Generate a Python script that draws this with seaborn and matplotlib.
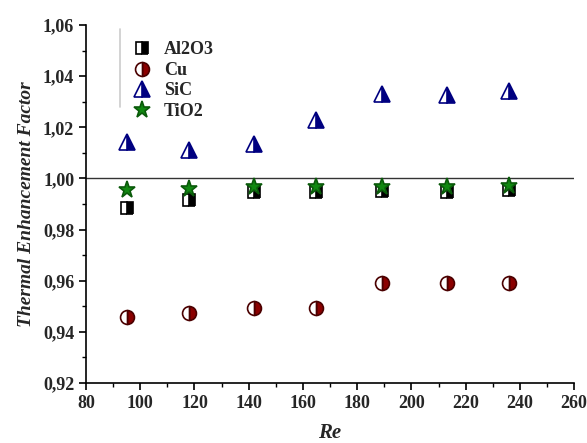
import numpy as np
import pandas as pd
import seaborn as sb
import matplotlib
matplotlib.use('Agg')
import matplotlib.pyplot as plt
from matplotlib.ticker import MultipleLocator, FuncFormatter

# values
re_values = [95, 118, 142, 165, 189, 213, 236]
al2o3 = [0.9885, 0.9915, 0.9945, 0.9948, 0.9950, 0.9948, 0.9955]
cu = [0.9460, 0.9475, 0.9495, 0.9495, 0.9590, 0.9590, 0.9590]
sic = [1.0144, 1.0110, 1.0135, 1.0229, 1.0330, 1.0326, 1.0340]
tio2 = [0.9955, 0.9960, 0.9965, 0.9965, 0.9965, 0.9965, 0.9970]
names = ['Al2O3', 'Cu', 'SiC', 'TiO2']

df = pd.DataFrame({'Re': re_values, 'Al2O3': al2o3, 'Cu': cu, 'SiC': sic, 'TiO2': tio2})

sb.set_style('ticks')
plt.rcParams['font.family'] = ['Liberation Serif', 'DejaVu Serif']
plt.rcParams['font.weight'] = 'bold'

fig = plt.figure(figsize=(5.87, 4.43), dpi=100)
ax = fig.add_axes([0.1465, 0.1354, 0.8315, 0.8082])

# horizontal reference line at factor = 1
ax.axhline(1.0, color='#333333', lw=1.0, zorder=1)

# half filled markers: right half coloured, left half white
styles = {
    'Al2O3': dict(marker='s', markersize=8.5, markeredgecolor='black', markerfacecolor='black'),
    'Cu': dict(marker='o', markersize=10, markeredgecolor='#4a0000', markerfacecolor='#8b0000'),
    'SiC': dict(marker='^', markersize=12, markeredgecolor='#000080', markerfacecolor='#000080'),
    'TiO2': dict(marker='*', markersize=12.5, markeredgecolor='#0a5a0a', markerfacecolor='#118811'),
}

for name in names:
    st = styles[name]
    fill = 'full' if name == 'TiO2' else 'right'
    sb.lineplot(data=df, x='Re', y=name, ax=ax, linestyle='none', label=name,
                fillstyle=fill, markerfacecoloralt='white', markeredgewidth=1.2, zorder=3, **st)

ax.set_xlim(80, 260)
ax.set_ylim(0.92, 1.06)
ax.xaxis.set_major_locator(MultipleLocator(20))
ax.xaxis.set_minor_locator(MultipleLocator(10))
ax.yaxis.set_major_locator(MultipleLocator(0.02))
ax.yaxis.set_minor_locator(MultipleLocator(0.01))
ax.yaxis.set_major_formatter(FuncFormatter(lambda v, p: f'{v:.2f}'.replace('.', ',')))
ax.tick_params(axis='both', which='major', labelsize=13, length=5, width=1.2, color='black')
ax.tick_params(axis='both', which='minor', length=3, width=1.0, color='black')
for lab in ax.get_xticklabels() + ax.get_yticklabels():
    lab.set_fontweight('bold')

for side in ['top', 'right']:
    ax.spines[side].set_visible(False)
for side in ['left', 'bottom']:
    ax.spines[side].set_linewidth(1.2)
    ax.spines[side].set_color('black')

ax.set_xlabel('Re', fontsize=15, fontweight='bold', fontstyle='italic', labelpad=8)
ax.set_ylabel('Thermal Enhancement Factor', fontsize=14, fontweight='bold', fontstyle='italic', labelpad=6)

leg = ax.legend(loc='upper left', bbox_to_anchor=(0.06, 1.0), frameon=False,
                prop={'weight': 'bold', 'size': 13}, handletextpad=0.6, labelspacing=0.2,
                handlelength=1.2)
# thin grey bar on left edge of legend like the reference
ax.plot([0.07, 0.07], [0.77, 0.99], transform=ax.transAxes, color='#cccccc', lw=1.2, zorder=0)

plt.savefig('out.png', dpi=100)
